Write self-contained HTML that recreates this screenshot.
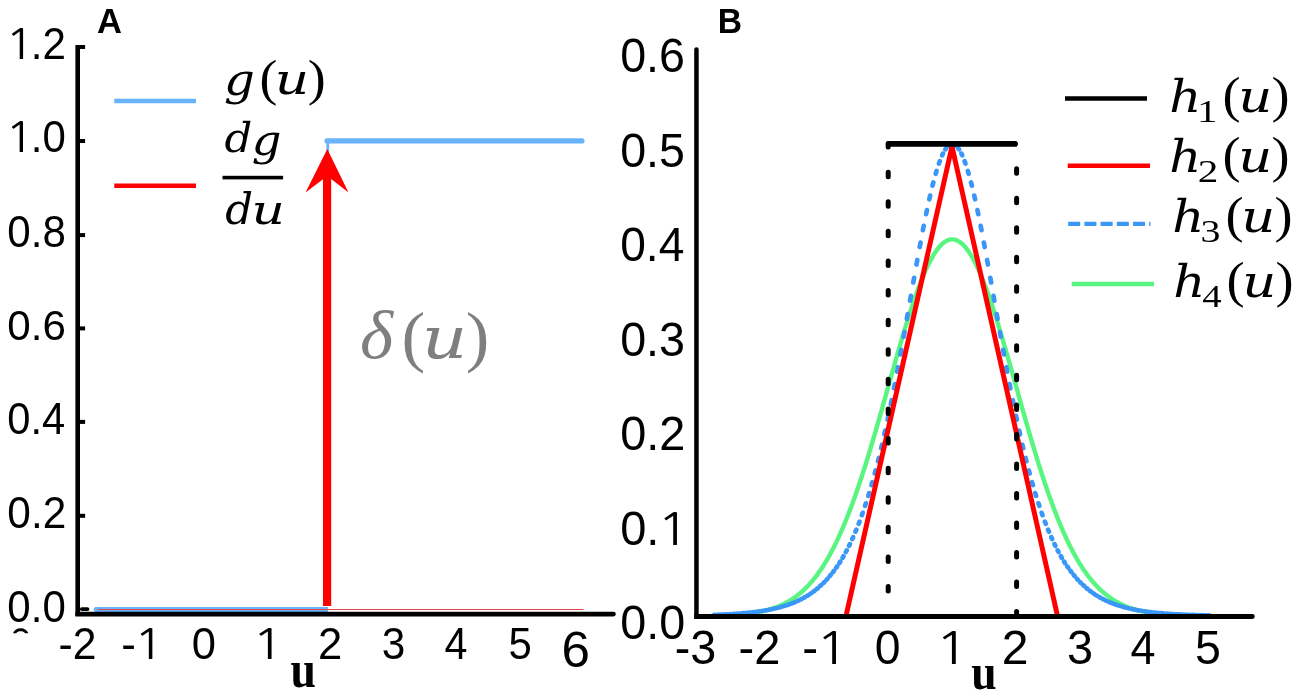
<!DOCTYPE html>
<html lang="en">
<head>
<meta charset="utf-8">
<title>Figure: g(u), dg/du and h1(u)-h4(u)</title>
<style>
html,body{margin:0;padding:0;background:#fff;}
body{width:1299px;height:697px;overflow:hidden;}
svg{display:block;}
.ls{font-family:"Liberation Sans", Arial, Helvetica, sans-serif;}
.lsb{font-family:"Liberation Sans", Arial, Helvetica, sans-serif;font-weight:bold;}
.lserb{font-family:"Liberation Serif", "Times New Roman", serif;font-weight:bold;}
.dsi{font-family:"DejaVu Serif", "Liberation Serif", serif;font-style:italic;}
.ds{font-family:"DejaVu Serif", "Liberation Serif", serif;font-style:normal;}
.lsi{font-family:"Liberation Serif", "Times New Roman", serif;font-style:italic;}
.lsr{font-family:"Liberation Serif", "Times New Roman", serif;font-style:normal;}
.ng{font-family:"NanumGothic", "Liberation Sans", sans-serif;}
</style>
</head>
<body>
<svg width="1299" height="697" viewBox="0 0 1299 697">
<rect x="0" y="0" width="1299" height="697" fill="#ffffff"/>

<g id="panelA">
<path d="M96 609.5 H327.9" fill="none" stroke="#69b3fb" stroke-width="4.8"/>
<circle cx="96" cy="609.5" r="2.4" fill="#69b3fb"/>
<line x1="327.8" y1="141" x2="327.8" y2="152" stroke="#69b3fb" stroke-width="2.8"/>
<line x1="327" y1="140.9" x2="582" y2="140.9" stroke="#69b3fb" stroke-width="5.1" stroke-linecap="round"/>
<line x1="98" y1="609.5" x2="583.5" y2="609.5" stroke="#e2444c" stroke-width="1.2"/>
<rect x="75.4" y="45" width="4.6" height="571" fill="#000"/>
<path d="M75.4 611.8 H613.5 a2.3 2.3 0 0 1 0 4.6 H75.4 Z" fill="#000"/>
<rect x="79.5" y="45" width="5.6" height="4" fill="#000"/>
<rect x="79.5" y="139" width="5.6" height="4" fill="#000"/>
<rect x="79.5" y="233.1" width="5.6" height="4" fill="#000"/>
<rect x="79.5" y="326.4" width="5.6" height="4" fill="#000"/>
<rect x="79.5" y="419.9" width="5.6" height="4" fill="#000"/>
<rect x="79.5" y="513.8" width="5.6" height="4" fill="#000"/>
<rect x="80" y="607.3" width="9.3" height="3.6" rx="1.7" fill="#000"/>
<rect x="323" y="170" width="8.2" height="436" fill="#ff0000"/>
<polygon points="327.3,149 348.5,192.5 327.3,176 305.5,192.5" fill="#ff0000"/>
<text class="ls" y="58.87" font-size="43.64"><tspan class="ng" x="5.04" y="58.75" font-size="40.84" textLength="29.72" lengthAdjust="spacingAndGlyphs">1</tspan><tspan x="30.85" y="58.87" textLength="11.72" lengthAdjust="spacingAndGlyphs">.</tspan><tspan x="42.57" y="58.87" textLength="23.45" lengthAdjust="spacingAndGlyphs">2</tspan></text>
<text class="ls" y="152.38" font-size="43.50"><tspan class="ng" x="5.07" y="152.25" font-size="40.70" textLength="29.57" lengthAdjust="spacingAndGlyphs">1</tspan><tspan x="30.75" y="152.38" textLength="11.66" lengthAdjust="spacingAndGlyphs">.</tspan><tspan x="42.41" y="152.38" textLength="23.33" lengthAdjust="spacingAndGlyphs">0</tspan></text>
<text class="ls" x="7.35" y="246.77" font-size="43.78" textLength="58.58" lengthAdjust="spacingAndGlyphs">0.8</text>
<text class="ls" x="7.35" y="340.48" font-size="43.36" textLength="58.60" lengthAdjust="spacingAndGlyphs">0.6</text>
<text class="ls" x="7.37" y="434.37" font-size="43.78" textLength="57.95" lengthAdjust="spacingAndGlyphs">0.4</text>
<text class="ls" x="7.35" y="528.47" font-size="43.78" textLength="58.89" lengthAdjust="spacingAndGlyphs">0.2</text>
<text class="ls" x="7.36" y="621.57" font-size="44.07" textLength="58.38" lengthAdjust="spacingAndGlyphs">0.0</text>
<path d="M12.9 633.3 C14.5 630 17 628.3 20.6 628.3 C24.2 628.3 26.8 630 28.4 633.3 L25 633.3 C24 631.9 22.6 631.3 20.6 631.3 C18.6 631.3 17.2 631.9 16.2 633.3 Z" fill="#000"/>
<text class="ls" x="58.50" y="658.67" font-size="44.21" textLength="37.94" lengthAdjust="spacingAndGlyphs">-2</text>
<text class="ls" y="658.67" font-size="44.21"><tspan x="121.25" y="658.67" textLength="14.65" lengthAdjust="spacingAndGlyphs">-</tspan><tspan class="ng" x="133.42" y="658.54" font-size="41.36" textLength="31.00" lengthAdjust="spacingAndGlyphs">1</tspan></text>
<text class="ls" x="191.70" y="658.67" font-size="44.21" textLength="24.20" lengthAdjust="spacingAndGlyphs">0</text>
<text class="ls" y="658.67" font-size="44.21"><tspan class="ng" x="251.77" y="658.54" font-size="41.36" textLength="32.57" lengthAdjust="spacingAndGlyphs">1</tspan></text>
<text class="ls" x="317.90" y="658.67" font-size="44.21" textLength="24.29" lengthAdjust="spacingAndGlyphs">2</text>
<text class="ls" x="381.79" y="658.67" font-size="44.21" textLength="23.58" lengthAdjust="spacingAndGlyphs">3</text>
<text class="ls" x="444.55" y="658.67" font-size="44.21" textLength="22.96" lengthAdjust="spacingAndGlyphs">4</text>
<text class="ls" x="508.42" y="658.67" font-size="44.21" textLength="23.34" lengthAdjust="spacingAndGlyphs">5</text>
<text class="ls" x="561.50" y="666.62" font-size="49.29" textLength="28.44" lengthAdjust="spacingAndGlyphs">6</text>
<text class="lserb" x="290.61" y="686.97" font-size="51.78" textLength="25.42" lengthAdjust="spacingAndGlyphs">u</text>
<text class="lsb" x="96.94" y="32.80" font-size="34.74" textLength="24.97" lengthAdjust="spacingAndGlyphs">A</text>
<line x1="114.3" y1="101" x2="196" y2="101" stroke="#69b3fb" stroke-width="4.4"/>
<line x1="114.3" y1="185.7" x2="196" y2="185.7" stroke="#ff0000" stroke-width="4.6"/>
<text fill="#000"><tspan class="dsi" x="224.00" y="95.35" font-size="45.67" textLength="30.87" lengthAdjust="spacingAndGlyphs">g</tspan><tspan class="lsr" x="259.61" y="95.04" font-size="51.50" textLength="17.85" lengthAdjust="spacingAndGlyphs">(</tspan><tspan class="dsi" x="274.75" y="94.29" font-size="43.14" textLength="34.41" lengthAdjust="spacingAndGlyphs">u</tspan><tspan class="lsr" x="307.73" y="95.04" font-size="51.50" textLength="17.97" lengthAdjust="spacingAndGlyphs">)</tspan></text>
<text fill="#000"><tspan class="dsi" x="224.45" y="152.11" font-size="41.86" textLength="27.79" lengthAdjust="spacingAndGlyphs">d</tspan><tspan class="dsi" x="251.67" y="154.51" font-size="43.16" textLength="29.73" lengthAdjust="spacingAndGlyphs">g</tspan></text>
<rect x="222.5" y="175.8" width="60.6" height="3.6" fill="#000"/>
<text fill="#000"><tspan class="dsi" x="225.35" y="224.30" font-size="42.38" textLength="27.79" lengthAdjust="spacingAndGlyphs">d</tspan><tspan class="dsi" x="251.56" y="224.33" font-size="40.51" textLength="33.39" lengthAdjust="spacingAndGlyphs">u</tspan></text>
<text fill="#7f7f7f"><tspan class="lsi" x="360.12" y="358.45" font-size="67.04" textLength="33.05" lengthAdjust="spacingAndGlyphs">δ</tspan><tspan class="lsr" x="401.59" y="358.74" font-size="67.94" textLength="23.69" lengthAdjust="spacingAndGlyphs">(</tspan><tspan class="dsi" x="421.76" y="358.27" font-size="58.70" textLength="45.62" lengthAdjust="spacingAndGlyphs">u</tspan><tspan class="lsr" x="465.73" y="358.74" font-size="67.94" textLength="23.57" lengthAdjust="spacingAndGlyphs">)</tspan></text>
</g>
<g id="panelB">
<polyline points="713.4,615.6 715.0,615.6 716.7,615.5 718.3,615.5 720.0,615.5 721.6,615.4 723.3,615.3 724.9,615.3 726.6,615.2 728.2,615.1 729.9,615.1 731.5,615.0 733.2,614.9 734.9,614.8 736.5,614.7 738.2,614.5 739.8,614.4 741.5,614.3 743.1,614.1 744.8,614.0 746.4,613.8 748.1,613.6 749.7,613.4 751.4,613.2 753.0,612.9 754.7,612.7 756.3,612.4 758.0,612.1 759.6,611.8 761.3,611.5 762.9,611.1 764.6,610.7 766.2,610.3 767.9,609.9 769.5,609.4 771.2,608.9 772.9,608.4 774.5,607.8 776.2,607.2 777.8,606.6 779.5,605.9 781.1,605.2 782.8,604.4 784.4,603.6 786.1,602.8 787.7,601.9 789.4,600.9 791.0,599.9 792.7,598.8 794.3,597.7 796.0,596.5 797.6,595.2 799.3,593.9 800.9,592.5 802.6,591.1 804.2,589.5 805.9,587.9 807.5,586.3 809.2,584.5 810.8,582.6 812.5,580.7 814.2,578.7 815.8,576.6 817.5,574.4 819.1,572.1 820.8,569.7 822.4,567.2 824.1,564.6 825.7,561.9 827.4,559.1 829.0,556.2 830.7,553.2 832.3,550.1 834.0,546.9 835.6,543.6 837.3,540.1 838.9,536.6 840.6,532.9 842.2,529.1 843.9,525.3 845.5,521.3 847.2,517.2 848.8,512.9 850.5,508.6 852.2,504.2 853.8,499.6 855.5,495.0 857.1,490.3 858.8,485.4 860.4,480.5 862.1,475.4 863.7,470.3 865.4,465.1 867.0,459.8 868.7,454.5 870.3,449.0 872.0,443.5 873.6,437.9 875.3,432.3 876.9,426.6 878.6,420.9 880.2,415.1 881.9,409.3 883.5,403.4 885.2,397.6 886.8,391.7 888.5,385.8 890.1,379.9 891.8,374.1 893.5,368.2 895.1,362.4 896.8,356.6 898.4,350.9 900.1,345.2 901.7,339.6 903.4,334.0 905.0,328.5 906.7,323.1 908.3,317.8 910.0,312.7 911.6,307.6 913.3,302.6 914.9,297.8 916.6,293.1 918.2,288.6 919.9,284.2 921.5,280.0 923.2,275.9 924.8,272.1 926.5,268.4 928.1,264.9 929.8,261.6 931.5,258.6 933.1,255.7 934.8,253.0 936.4,250.6 938.1,248.4 939.7,246.5 941.4,244.7 943.0,243.2 944.7,242.0 946.3,241.0 948.0,240.2 949.6,239.7 951.3,239.4 952.9,239.4 954.6,239.7 956.2,240.1 957.9,240.9 959.5,241.8 961.2,243.1 962.8,244.5 964.5,246.2 966.1,248.2 967.8,250.3 969.4,252.7 971.1,255.4 972.8,258.2 974.4,261.3 976.1,264.5 977.7,268.0 979.4,271.6 981.0,275.5 982.7,279.5 984.3,283.7 986.0,288.1 987.6,292.6 989.3,297.2 990.9,302.0 992.6,307.0 994.2,312.0 995.9,317.2 997.5,322.5 999.2,327.9 1000.8,333.4 1002.5,338.9 1004.1,344.5 1005.8,350.2 1007.4,355.9 1009.1,361.7 1010.8,367.5 1012.4,373.4 1014.1,379.2 1015.7,385.1 1017.4,391.0 1019.0,396.9 1020.7,402.7 1022.3,408.6 1024.0,414.4 1025.6,420.2 1027.3,425.9 1028.9,431.6 1030.6,437.2 1032.2,442.8 1033.9,448.4 1035.5,453.8 1037.2,459.2 1038.8,464.5 1040.5,469.7 1042.1,474.8 1043.8,479.9 1045.4,484.8 1047.1,489.7 1048.7,494.4 1050.4,499.1 1052.1,503.6 1053.7,508.1 1055.4,512.4 1057.0,516.7 1058.7,520.8 1060.3,524.8 1062.0,528.7 1063.6,532.5 1065.3,536.1 1066.9,539.7 1068.6,543.2 1070.2,546.5 1071.9,549.7 1073.5,552.9 1075.2,555.9 1076.8,558.8 1078.5,561.6 1080.1,564.3 1081.8,566.9 1083.4,569.4 1085.1,571.8 1086.7,574.1 1088.4,576.3 1090.1,578.4 1091.7,580.5 1093.4,582.4 1095.0,584.3 1096.7,586.0 1098.3,587.7 1100.0,589.4 1101.6,590.9 1103.3,592.4 1104.9,593.8 1106.6,595.1 1108.2,596.3 1109.9,597.5 1111.5,598.7 1113.2,599.8 1114.8,600.8 1116.5,601.7 1118.1,602.7 1119.8,603.5 1121.4,604.3 1123.1,605.1 1124.7,605.8 1126.4,606.5 1128.0,607.2 1129.7,607.8 1131.4,608.3 1133.0,608.9 1134.7,609.4 1136.3,609.8 1138.0,610.3 1139.6,610.7 1141.3,611.1 1142.9,611.4 1144.6,611.8 1146.2,612.1 1147.9,612.4 1149.5,612.7 1151.2,612.9 1152.8,613.1 1154.5,613.4 1156.1,613.6 1157.8,613.8 1159.4,613.9 1161.1,614.1 1162.7,614.3 1164.4,614.4 1166.0,614.5 1167.7,614.7 1169.4,614.8 1171.0,614.9 1172.7,615.0 1174.3,615.1 1176.0,615.1 1177.6,615.2 1179.3,615.3 1180.9,615.3 1182.6,615.4 1184.2,615.5 1185.9,615.5 1187.5,615.5 1189.2,615.6 1190.8,615.6 1192.5,615.7 1194.1,615.7 1195.8,615.7 1197.4,615.7 1199.1,615.8 1200.7,615.8 1202.4,615.8 1204.0,615.8 1205.7,615.8 1207.3,615.9 1209.0,615.9" fill="none" stroke="#58f580" stroke-width="4.4" stroke-linecap="round" stroke-linejoin="round"/>
<path d="M714.24 614.86L715.08 614.83M717.45 614.74L718.29 614.71M720.66 614.61L721.50 614.57M723.87 614.46L724.71 614.42M727.08 614.30L727.92 614.26M730.29 614.13L731.13 614.08M733.50 613.93L734.34 613.87M736.71 613.71L737.55 613.65M739.92 613.47L740.76 613.41M743.13 613.21L743.97 613.13M746.34 612.91L747.18 612.83M749.55 612.59L750.39 612.50M752.76 612.23L753.60 612.13M755.97 611.84L756.81 611.73M759.18 611.40L760.02 611.28M762.39 610.92L763.23 610.79M765.60 610.39L766.44 610.24M768.81 609.81L769.65 609.64M772.02 609.16L772.86 608.98M775.23 608.44L776.07 608.25M778.44 607.66L779.28 607.44M781.65 606.79L782.49 606.55M784.86 605.83L785.70 605.57M788.07 604.77L788.91 604.48M791.28 603.61L792.12 603.29M794.49 602.32L795.33 601.97M797.70 600.91L798.54 600.52M800.91 599.35L801.75 598.92M804.12 597.63L804.96 597.16M807.33 595.74L808.17 595.22M810.54 593.66L811.38 593.09M813.75 591.38L814.59 590.75M816.96 588.86L817.80 588.17M820.17 586.10L821.01 585.34M823.38 583.07L824.22 582.23M826.59 579.74L827.43 578.82M829.80 576.09L830.64 575.09M833.01 572.09L833.85 570.99M836.22 567.72L837.06 566.52M839.43 562.93L840.27 561.62M842.64 557.71L843.48 556.27M845.85 552.01L846.69 550.44M849.06 545.80L849.90 544.10M852.27 539.04L853.11 537.19M855.48 531.70L856.32 529.70M858.69 523.75L859.53 521.58M861.90 515.14L862.74 512.80M865.11 505.85L865.95 503.32M868.32 495.85L869.16 493.12M871.53 485.10L872.37 482.18M874.74 473.58L875.58 470.46M877.95 461.29L878.79 457.97M881.16 448.21L882.00 444.69M884.37 434.35L885.21 430.62M887.58 419.73L888.42 415.80M890.79 404.36L891.63 400.25M894.00 388.31L894.84 384.03M897.21 371.63L898.05 367.20M900.42 354.40L901.26 349.84M903.63 336.73L904.47 332.08M906.84 318.76L907.68 314.05M910.05 300.61L910.89 295.89M913.26 282.48L914.10 277.79M916.47 264.55L917.31 259.95M919.68 247.03L920.52 242.57M922.89 230.15L923.73 225.90M926.10 214.14L926.94 210.15M929.31 199.25L930.15 195.59M932.52 185.70L933.36 182.43M935.73 173.74L936.57 170.92M938.94 163.57L939.78 161.24M942.15 155.37L942.99 153.59M945.36 149.31L946.20 148.10M948.57 145.50L949.41 144.89M951.78 144.02L952.62 144.02M954.99 144.89L955.83 145.50M958.20 148.10L959.04 149.31M961.41 153.59L962.25 155.37M964.62 161.24L965.46 163.57M967.83 170.92L968.67 173.74M971.04 182.43L971.88 185.70M974.25 195.59L975.09 199.25M977.46 210.15L978.30 214.14M980.67 225.90L981.51 230.15M983.88 242.57L984.72 247.03M987.09 259.95L987.93 264.55M990.30 277.79L991.14 282.48M993.51 295.89L994.35 300.61M996.72 314.05L997.56 318.76M999.93 332.08L1000.77 336.73M1003.14 349.84L1003.98 354.40M1006.35 367.20L1007.19 371.63M1009.56 384.03L1010.40 388.31M1012.77 400.25L1013.61 404.36M1015.98 415.80L1016.82 419.73M1019.19 430.62L1020.03 434.35M1022.40 444.69L1023.24 448.21M1025.61 457.97L1026.45 461.29M1028.82 470.46L1029.66 473.58M1032.03 482.18L1032.87 485.10M1035.24 493.12L1036.08 495.85M1038.45 503.32L1039.29 505.85M1041.66 512.80L1042.50 515.14M1044.87 521.58L1045.71 523.75M1048.08 529.70L1048.92 531.70M1051.29 537.19L1052.13 539.04M1054.50 544.10L1055.34 545.80M1057.71 550.44L1058.55 552.01M1060.92 556.27L1061.76 557.71M1064.13 561.62L1064.97 562.93M1067.34 566.52L1068.18 567.72M1070.55 570.99L1071.39 572.09M1073.76 575.09L1074.60 576.09M1076.97 578.82L1077.81 579.74M1080.18 582.23L1081.02 583.07M1083.39 585.34L1084.23 586.10M1086.60 588.17L1087.44 588.86M1089.81 590.75L1090.65 591.38M1093.02 593.09L1093.86 593.66M1096.23 595.22L1097.07 595.74M1099.44 597.16L1100.28 597.63M1102.65 598.92L1103.49 599.35M1105.86 600.52L1106.70 600.91M1109.07 601.97L1109.91 602.32M1112.28 603.29L1113.12 603.61M1115.49 604.48L1116.33 604.77M1118.70 605.57L1119.54 605.83M1121.91 606.55L1122.75 606.79M1125.12 607.44L1125.96 607.66M1128.33 608.25L1129.17 608.44M1131.54 608.98L1132.38 609.16M1134.75 609.64L1135.59 609.81M1137.96 610.24L1138.80 610.39M1141.17 610.79L1142.01 610.92M1144.38 611.28L1145.22 611.40M1147.59 611.73L1148.43 611.84M1150.80 612.13L1151.64 612.23M1154.01 612.50L1154.85 612.59M1157.22 612.83L1158.06 612.91M1160.43 613.13L1161.27 613.21M1163.64 613.41L1164.48 613.47M1166.85 613.65L1167.69 613.71M1170.06 613.87L1170.90 613.93M1173.27 614.08L1174.11 614.13M1176.48 614.26L1177.32 614.30M1179.69 614.42L1180.53 614.46M1182.90 614.57L1183.74 614.61M1186.11 614.71L1186.95 614.74M1189.32 614.83L1190.16 614.86M1192.53 614.94L1193.37 614.97M1195.74 615.04L1196.58 615.07M1198.95 615.13L1199.79 615.16M1202.16 615.22L1203.00 615.24M1205.37 615.29L1206.21 615.31M1208.58 615.36L1209.42 615.38" fill="none" stroke="#3b97f7" stroke-width="4.7" stroke-linecap="round"/>
<polyline points="846,616 952,146.5 1057.5,616" fill="none" stroke="#ff0000" stroke-width="5" stroke-linejoin="miter"/>
<line x1="888.2" y1="143.6" x2="888.2" y2="612" stroke="#000" stroke-width="5" stroke-linecap="round" stroke-dasharray="4.5 25.1" stroke-dashoffset="1.05"/>
<line x1="1016.6" y1="168.72" x2="1016.6" y2="616.5" stroke="#000" stroke-width="5" stroke-linecap="round" stroke-dasharray="4.5 25.02"/>
<line x1="888.6" y1="143.9" x2="1015.2" y2="143.9" stroke="#000" stroke-width="5.6" stroke-linecap="round"/>
<path d="M694.2 49.5 a2.25 2.25 0 0 1 4.5 0 V619 H694.2 Z" fill="#000"/>
<path d="M694.3 614.1 H1252.3 a2.45 2.45 0 0 1 0 4.9 H694.3 Z" fill="#000"/>
<text class="ls" x="620.18" y="72.33" font-size="48.30" textLength="64.87" lengthAdjust="spacingAndGlyphs">0.6</text>
<text class="ls" x="620.18" y="166.81" font-size="48.30" textLength="64.78" lengthAdjust="spacingAndGlyphs">0.5</text>
<text class="ls" x="620.20" y="261.29" font-size="48.30" textLength="64.15" lengthAdjust="spacingAndGlyphs">0.4</text>
<text class="ls" x="620.18" y="355.77" font-size="48.30" textLength="64.87" lengthAdjust="spacingAndGlyphs">0.3</text>
<text class="ls" x="620.17" y="450.25" font-size="48.30" textLength="65.19" lengthAdjust="spacingAndGlyphs">0.2</text>
<text class="ls" y="544.73" font-size="48.30"><tspan x="620.16" y="544.73" textLength="26.19" lengthAdjust="spacingAndGlyphs">0</tspan><tspan x="646.35" y="544.73" textLength="13.08" lengthAdjust="spacingAndGlyphs">.</tspan><tspan class="ng" x="656.79" y="544.59" font-size="45.20" textLength="33.19" lengthAdjust="spacingAndGlyphs">1</tspan></text>
<text class="ls" x="620.27" y="639.13" font-size="48.45" textLength="64.95" lengthAdjust="spacingAndGlyphs">0.0</text>
<text class="ls" x="674.82" y="664.23" font-size="48.59" textLength="41.53" lengthAdjust="spacingAndGlyphs">-3</text>
<text class="ls" x="738.61" y="664.23" font-size="48.59" textLength="41.86" lengthAdjust="spacingAndGlyphs">-2</text>
<text class="ls" y="664.23" font-size="48.59"><tspan x="802.28" y="664.23" textLength="15.91" lengthAdjust="spacingAndGlyphs">-</tspan><tspan class="ng" x="815.50" y="664.09" font-size="45.46" textLength="33.66" lengthAdjust="spacingAndGlyphs">1</tspan></text>
<text class="ls" x="874.79" y="664.23" font-size="48.59" textLength="25.83" lengthAdjust="spacingAndGlyphs">0</text>
<text class="ls" y="664.23" font-size="48.59"><tspan class="ng" x="935.09" y="664.09" font-size="45.46" textLength="34.17" lengthAdjust="spacingAndGlyphs">1</tspan></text>
<text class="ls" x="1001.68" y="664.23" font-size="48.59" textLength="26.74" lengthAdjust="spacingAndGlyphs">2</text>
<text class="ls" x="1066.92" y="664.23" font-size="48.59" textLength="26.04" lengthAdjust="spacingAndGlyphs">3</text>
<text class="ls" x="1130.47" y="664.23" font-size="48.59" textLength="25.05" lengthAdjust="spacingAndGlyphs">4</text>
<text class="ls" x="1195.03" y="664.23" font-size="48.59" textLength="25.92" lengthAdjust="spacingAndGlyphs">5</text>
<text class="lserb" x="971.31" y="688.98" font-size="50.72" textLength="25.42" lengthAdjust="spacingAndGlyphs">u</text>
<text class="lsb" x="717.75" y="32.90" font-size="35.18" textLength="24.28" lengthAdjust="spacingAndGlyphs">B</text>
<line x1="1065" y1="98.5" x2="1147" y2="98.5" stroke="#000" stroke-width="4.5"/>
<line x1="1067.7" y1="165.8" x2="1150" y2="165.8" stroke="#ff0000" stroke-width="4.5"/>
<line x1="1068.2" y1="223.8" x2="1150.5" y2="223.8" stroke="#3b97f7" stroke-width="4.2" stroke-dasharray="12 4.2"/>
<line x1="1071.7" y1="284" x2="1154" y2="284" stroke="#58f580" stroke-width="4.3"/>
<text fill="#000"><tspan class="dsi" x="1169.39" y="112.00" font-size="45.67" textLength="32.08" lengthAdjust="spacingAndGlyphs">h</tspan><tspan class="lsr" x="1197.10" y="122.20" font-size="31.51" textLength="20.45" lengthAdjust="spacingAndGlyphs">1</tspan><tspan class="lsr" x="1222.59" y="112.00" font-size="50.73" textLength="18.09" lengthAdjust="spacingAndGlyphs">(</tspan><tspan class="dsi" x="1238.29" y="111.97" font-size="44.64" textLength="34.03" lengthAdjust="spacingAndGlyphs">u</tspan><tspan class="lsr" x="1271.42" y="112.00" font-size="50.73" textLength="18.09" lengthAdjust="spacingAndGlyphs">)</tspan></text>
<text fill="#000"><tspan class="dsi" x="1169.39" y="172.10" font-size="45.67" textLength="32.08" lengthAdjust="spacingAndGlyphs">h</tspan><tspan class="lsr" x="1197.69" y="182.30" font-size="31.41" textLength="20.58" lengthAdjust="spacingAndGlyphs">2</tspan><tspan class="lsr" x="1222.59" y="172.10" font-size="50.73" textLength="18.09" lengthAdjust="spacingAndGlyphs">(</tspan><tspan class="dsi" x="1238.29" y="172.07" font-size="44.64" textLength="34.03" lengthAdjust="spacingAndGlyphs">u</tspan><tspan class="lsr" x="1271.42" y="172.10" font-size="50.73" textLength="18.09" lengthAdjust="spacingAndGlyphs">)</tspan></text>
<text fill="#000"><tspan class="dsi" x="1172.39" y="231.90" font-size="45.67" textLength="32.08" lengthAdjust="spacingAndGlyphs">h</tspan><tspan class="lsr" x="1200.59" y="241.80" font-size="30.96" textLength="19.97" lengthAdjust="spacingAndGlyphs">3</tspan><tspan class="lsr" x="1225.59" y="231.90" font-size="50.73" textLength="18.09" lengthAdjust="spacingAndGlyphs">(</tspan><tspan class="dsi" x="1241.29" y="231.87" font-size="44.64" textLength="34.03" lengthAdjust="spacingAndGlyphs">u</tspan><tspan class="lsr" x="1274.42" y="231.90" font-size="50.73" textLength="18.09" lengthAdjust="spacingAndGlyphs">)</tspan></text>
<text fill="#000"><tspan class="dsi" x="1173.39" y="296.70" font-size="45.67" textLength="32.08" lengthAdjust="spacingAndGlyphs">h</tspan><tspan class="lsr" x="1202.24" y="306.90" font-size="31.60" textLength="19.36" lengthAdjust="spacingAndGlyphs">4</tspan><tspan class="lsr" x="1226.59" y="296.70" font-size="50.73" textLength="18.09" lengthAdjust="spacingAndGlyphs">(</tspan><tspan class="dsi" x="1242.29" y="296.67" font-size="44.64" textLength="34.03" lengthAdjust="spacingAndGlyphs">u</tspan><tspan class="lsr" x="1275.42" y="296.70" font-size="50.73" textLength="18.09" lengthAdjust="spacingAndGlyphs">)</tspan></text>
</g>
</svg>
</body>
</html>
